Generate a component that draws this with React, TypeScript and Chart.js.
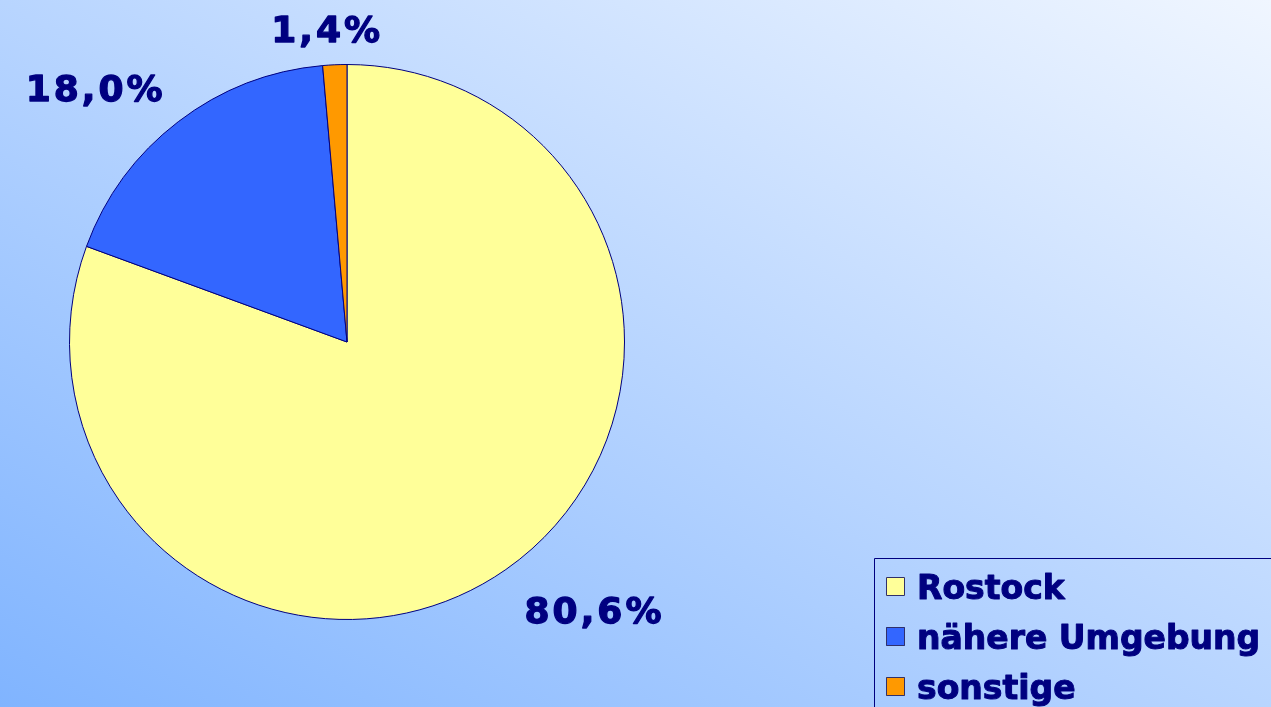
import { useEffect, useRef } from "react";
import { Chart, registerables } from "chart.js";
Chart.register(...registerables);

const categories = ["Rostock", "nähere Umgebung", "sonstige"];
const shares = [80.6, 18.0, 1.4];
const sliceColors = ["#FFFF99", "#3366FF", "#FF9900"];
const valueLabels = ["80,6%", "18,0%", "1,4%"];

const NAVY = "#000080";
const FONT = "'DejaVu Sans', Verdana, sans-serif";
// fine adjustments of the value labels relative to their slice's mid-angle anchor
const labelNudge: [number, number][] = [
  [41, -28],
  [-32, 32],
  [-4, 47],
];

const overlayPlugin = {
  id: "overlay",
  afterDatasetsDraw(chart: any) {
    const ctx: CanvasRenderingContext2D = chart.ctx;
    const meta = chart.getDatasetMeta(0);
    ctx.save();
    // value labels
    ctx.fillStyle = NAVY;
    ctx.strokeStyle = NAVY;
    ctx.lineJoin = "round";
    ctx.font = `bold 36px ${FONT}`;
    (ctx as any).letterSpacing = "3px";
    ctx.textAlign = "center";
    ctx.textBaseline = "alphabetic";
    meta.data.forEach((arc: any, i: number) => {
      const { x, y, startAngle, endAngle, outerRadius } = arc.getProps(
        ["x", "y", "startAngle", "endAngle", "outerRadius"],
        true
      );
      const mid = (startAngle + endAngle) / 2;
      const r = outerRadius * 1.3;
      const lx = x + Math.cos(mid) * r + labelNudge[i][0];
      const ly = y + Math.sin(mid) * r + labelNudge[i][1];
      ctx.lineWidth = 1.3;
      ctx.fillText(valueLabels[i], lx, ly + 13);
      ctx.strokeText(valueLabels[i], lx, ly + 13);
    });
    // legend
    (ctx as any).letterSpacing = "0px";
    ctx.strokeStyle = NAVY;
    ctx.lineWidth = 1;
    ctx.strokeRect(874.5, 558.5, 420, 200);
    ctx.font = `bold 33px ${FONT}`;
    ctx.textAlign = "left";
    categories.forEach((name, i) => {
      const top = 577 + i * 50;
      ctx.fillStyle = sliceColors[i];
      ctx.fillRect(886, top, 19, 19);
      ctx.strokeStyle = "#30306a";
      ctx.lineWidth = 1;
      ctx.strokeRect(886.5, top + 0.5, 18, 18);
      ctx.fillStyle = NAVY;
      ctx.strokeStyle = NAVY;
      ctx.lineWidth = 1;
      ctx.fillText(name, 917, 599 + i * 50);
      ctx.strokeText(name, 917, 599 + i * 50);
    });
    ctx.restore();
  },
};

export default function App() {
  const ref = useRef<HTMLCanvasElement>(null);
  useEffect(() => {
    document.body.style.margin = "0";
    const chart = new Chart(ref.current!, {
      type: "pie",
      data: {
        labels: categories,
        datasets: [
          {
            data: shares,
            backgroundColor: sliceColors,
            borderColor: NAVY,
            borderWidth: 1,
          },
        ],
      },
      options: {
        responsive: false,
        animation: false,
        devicePixelRatio: 1,
        layout: { padding: { left: 69, right: 646, top: 64, bottom: 87 } },
        plugins: {
          legend: { display: false },
          tooltip: { enabled: false },
        },
      },
      plugins: [overlayPlugin],
    });
    return () => chart.destroy();
  }, []);
  return (
    <div
      style={{
        position: "fixed",
        left: 0,
        top: 0,
        width: 1271,
        height: 707,
        overflow: "hidden",
        background: "linear-gradient(to top right, #80B4FF 0%, #F0F6FF 100%)",
      }}
    >
      <canvas ref={ref} width={1271} height={707} style={{ display: "block" }} />
    </div>
  );
}
